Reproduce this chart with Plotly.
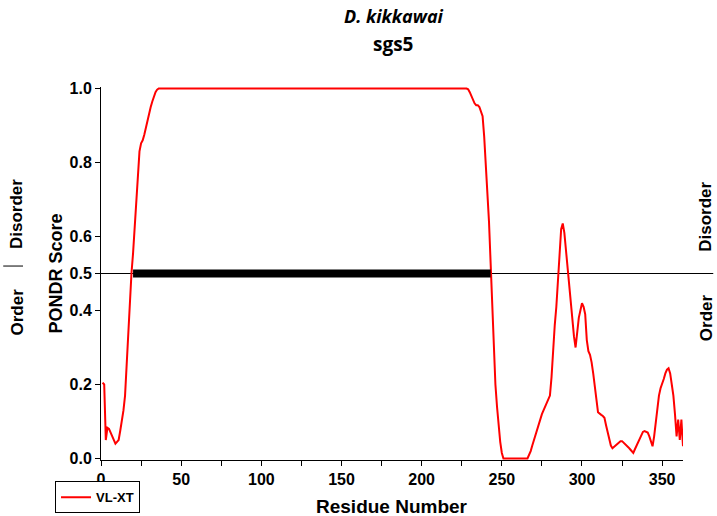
import plotly.graph_objects as go

# ---- data ----
residues = [1, 2, 3, 4, 5, 6, 7, 8, 9, 10, 11, 12, 13, 14, 15, 16, 17, 18, 19, 20,
            21, 22, 23, 24, 25, 26, 27, 28, 29, 30, 31, 32, 33, 34, 35, 36,
            228, 229, 230, 231, 232, 233, 234, 235, 236, 237, 238, 239, 240, 241, 242,
            243, 244, 245, 246, 247, 248, 249, 250, 251, 266,
            267, 268, 269, 270, 271, 272, 273, 274, 275, 276, 277, 278, 279, 280,
            281, 282, 283, 284, 285, 286, 287, 288, 289, 290, 291, 292, 293, 294, 295,
            296, 297, 298, 299, 300, 301, 302, 303, 304, 305, 306, 307, 308, 309, 310,
            311, 312, 313, 314, 315, 316, 317, 318, 319, 320, 321, 322, 323, 324, 325,
            326, 327, 328, 329, 330, 331, 332, 333, 334, 335, 336, 337, 338, 339, 340,
            341, 342, 343, 344, 345, 346, 347, 348, 349, 350, 351, 352, 353, 354, 355,
            356, 357, 358, 359, 360, 361, 362, 363]
vlxt = [0.205, 0.20, 0.05, 0.083, 0.08, 0.07, 0.055, 0.045, 0.04, 0.045, 0.05, 0.075, 0.10, 0.13, 0.17, 0.26, 0.36, 0.44, 0.50, 0.555,
        0.63, 0.69, 0.77, 0.83, 0.852, 0.86, 0.875, 0.895, 0.91, 0.935, 0.95, 0.965, 0.98, 0.99, 0.997, 1.0,
        1.0, 0.998, 0.99, 0.98, 0.965, 0.96, 0.955, 0.955, 0.95, 0.94, 0.925, 0.87, 0.80, 0.74, 0.64,
        0.53, 0.42, 0.30, 0.20, 0.14, 0.09, 0.045, 0.015, 0.0, 0.0,
        0.008, 0.02, 0.035, 0.05, 0.065, 0.08, 0.095, 0.105, 0.12, 0.13, 0.14, 0.15, 0.16, 0.17,
        0.22, 0.30, 0.36, 0.41, 0.47, 0.55, 0.62, 0.635, 0.61, 0.56, 0.51, 0.46, 0.42, 0.37, 0.33,
        0.30, 0.34, 0.38, 0.40, 0.42, 0.41, 0.39, 0.32, 0.29, 0.28, 0.26, 0.23, 0.20, 0.16, 0.125,
        0.12, 0.118, 0.115, 0.11, 0.09, 0.07, 0.05, 0.035, 0.028, 0.032, 0.036, 0.04, 0.044, 0.047, 0.047,
        0.043, 0.04, 0.035, 0.03, 0.025, 0.02, 0.015, 0.025, 0.035, 0.045, 0.055, 0.065, 0.072, 0.074, 0.072,
        0.07, 0.06, 0.045, 0.033, 0.06, 0.10, 0.14, 0.17, 0.19, 0.20, 0.215, 0.23, 0.24, 0.244, 0.23,
        0.20, 0.17, 0.12, 0.06, 0.105, 0.05, 0.105, 0.033]

disorder_start = [20]
disorder_end = [243]
threshold = 0.5

x_ticks = [0, 50, 100, 150, 200, 250, 300, 350]
y_ticks = [0.0, 0.2, 0.4, 0.5, 0.6, 0.8, 1.0]
y_ticktext = ["0.0", "0.2", "0.4", "0.5", "0.6", "0.8", "1.0"]

FONT = "Liberation Sans"

fig = go.Figure()
fig.add_trace(go.Scatter(
    x=residues, y=vlxt, mode="lines", name="VL-XT",
    line=dict(color="#ff0000", width=2),
))
fig.add_trace(go.Scatter(
    x=[disorder_start[0], disorder_end[0]], y=[threshold, threshold], mode="lines",
    line=dict(color="black", width=8), showlegend=False,
))

fig.update_layout(
    width=717, height=516,
    margin=dict(l=101, r=34, t=87, b=56, autoexpand=False),
    paper_bgcolor="white", plot_bgcolor="white",
    font=dict(family=FONT, color="black"),
    showlegend=True,
    legend=dict(
        x=-0.079, y=-0.143, xanchor="left", yanchor="bottom",
        bordercolor="black", borderwidth=1, bgcolor="white",
        font=dict(family=FONT, size=13, weight="bold"),
        itemwidth=30, tracegroupgap=0,
    ),
    xaxis=dict(
        range=[0, 363], showgrid=False, zeroline=False,
        showline=True, linecolor="black", linewidth=1,
        ticks="outside", ticklen=5, tickcolor="black",
        tickvals=x_ticks,
        tickfont=dict(family=FONT, size=16, weight="bold"),
        minor=dict(dtick=25, tick0=0, ticks="outside", ticklen=5, tickcolor="black"),
    ),
    yaxis=dict(
        range=[-0.004, 1.004], showgrid=False, zeroline=False,
        showline=True, linecolor="black", linewidth=1,
        ticks="outside", ticklen=5, tickcolor="black",
        tickvals=y_ticks, ticktext=y_ticktext,
        tickfont=dict(family=FONT, size=16, weight="bold"),
    ),
)

# threshold line extending past plot area
fig.add_shape(type="line", xref="paper", yref="y", x0=0, x1=1.052, y0=threshold, y1=threshold,
              line=dict(color="black", width=1), layer="below")
# small separator between left Disorder/Order labels
fig.add_shape(type="line", xref="paper", yref="paper", x0=-0.168, x1=-0.134, y0=0.52, y1=0.52,
              line=dict(color="black", width=1))

ann = [
    dict(text="<i>D. kikkawai</i>", x=0.503, y=1.191, size=18, angle=0, family="Open Sans"),
    dict(text="sgs5", x=0.502, y=1.116, size=19, angle=0, family="Open Sans"),
    dict(text="PONDR Score", x=-0.079, y=0.50, size=18, angle=-90, family=FONT),
    dict(text="Residue Number", x=0.50, y=-0.124, size=19, angle=0, family=FONT),
    dict(text="Disorder", x=-0.144, y=0.66, size=17, angle=-90, family=FONT),
    dict(text="Order", x=-0.144, y=0.396, size=17, angle=-90, family=FONT),
    dict(text="Disorder", x=1.0395, y=0.652, size=17, angle=-90, family=FONT),
    dict(text="Order", x=1.0395, y=0.383, size=17, angle=-90, family=FONT),
]
for a in ann:
    fig.add_annotation(
        text=a["text"], xref="paper", yref="paper", x=a["x"], y=a["y"],
        xanchor="center", yanchor="middle", showarrow=False, textangle=a["angle"],
        font=dict(family=a["family"], size=a["size"], weight="bold", color="black"),
    )

fig.write_html("out.html")
